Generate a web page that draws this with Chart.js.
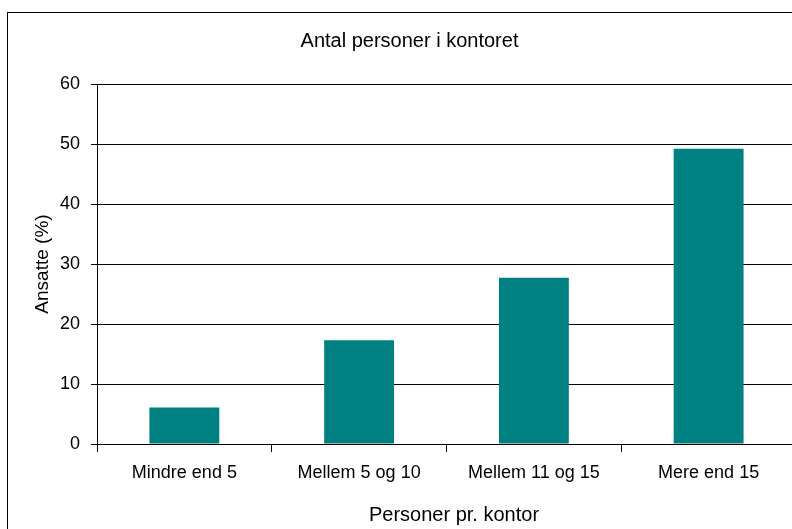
<!DOCTYPE html>
<html>
<head>
<meta charset="utf-8">
<script src="https://cdn.jsdelivr.net/npm/chart.js@4/dist/chart.umd.min.js"></script>
<style>
  html, body { margin: 0; padding: 0; background: #fff; overflow: hidden; }
  #wrap { position: absolute; left: 0; top: 0; width: 800px; height: 529px; }
</style>
</head>
<body>
<div id="wrap"><canvas id="c" width="800" height="529"></canvas></div>
<script>
const categories = ["Mindre end 5", "Mellem 5 og 10", "Mellem 11 og 15", "Mere end 15"];
const values = [6.1, 17.3, 27.7, 49.2];
const yTicks = [0, 10, 20, 30, 40, 50, 60];
const chartTitle = "Antal personer i kontoret";
const xTitle = "Personer pr. kontor";
const yTitle = "Ansatte (%)";

const FONT = "'Liberation Sans', Arial, sans-serif";

const frame = {
  id: 'frame',
  beforeDraw(chart) {
    const ctx = chart.ctx;
    ctx.save();
    ctx.fillStyle = '#fff';
    ctx.fillRect(0, 0, chart.width, chart.height);
    ctx.strokeStyle = '#000';
    ctx.lineWidth = 1;
    ctx.strokeRect(7.5, 12.5, 900, 600);
    ctx.restore();
  },
  afterDraw(chart) {
    const ctx = chart.ctx;
    const a = chart.chartArea;
    ctx.save();
    ctx.fillStyle = '#000';
    ctx.font = "20px " + FONT;
    ctx.textAlign = 'center';
    ctx.textBaseline = 'middle';
    ctx.fillText(xTitle, (a.left + a.right) / 2 + 7.5, 515);
    ctx.restore();
  }
};

new Chart(document.getElementById('c'), {
  type: 'bar',
  data: {
    labels: categories,
    datasets: [{
      data: values,
      backgroundColor: '#008080',
      borderWidth: 0,
      categoryPercentage: 1,
      barPercentage: 0.4
    }]
  },
  options: {
    responsive: false,
    animation: false,
    devicePixelRatio: 1,
    layout: { padding: { left: 23, right: 4, top: 0, bottom: 0 } },
    plugins: {
      legend: { display: false },
      tooltip: { enabled: false },
      title: {
        display: true,
        text: chartTitle,
        color: '#000',
        font: { family: FONT, size: 20, weight: 'normal' },
        padding: { top: 29, bottom: 31 }
      }
    },
    scales: {
      x: {
        offset: true,
        grid: {
          display: true,
          offset: true,
          drawOnChartArea: false,
          drawTicks: true,
          tickLength: 8,
          color: '#000',
          lineWidth: 1
        },
        border: { display: true, color: '#000', width: 1 },
        ticks: {
          color: '#000',
          font: { family: FONT, size: 18 },
          padding: 10,
          maxRotation: 0,
          autoSkip: false
        },
        title: { display: false },
        afterFit(scale) { scale.height = 85; }
      },
      y: {
        min: 0,
        max: 60,
        afterBuildTicks(scale) { scale.ticks = yTicks.map(v => ({ value: v })); },
        grid: {
          color: '#000',
          lineWidth: 1,
          drawTicks: true,
          tickLength: 6
        },
        border: { display: true, color: '#000', width: 1 },
        ticks: {
          color: '#000',
          font: { family: FONT, size: 18 },
          padding: 11
        },
        title: {
          display: true,
          text: yTitle,
          color: '#000',
          font: { family: FONT, size: 19 },
          padding: { top: 8, bottom: 0 }
        },
        afterFit(scale) { scale.width = 74; }
      }
    }
  },
  plugins: [frame]
});
</script>
</body>
</html>
